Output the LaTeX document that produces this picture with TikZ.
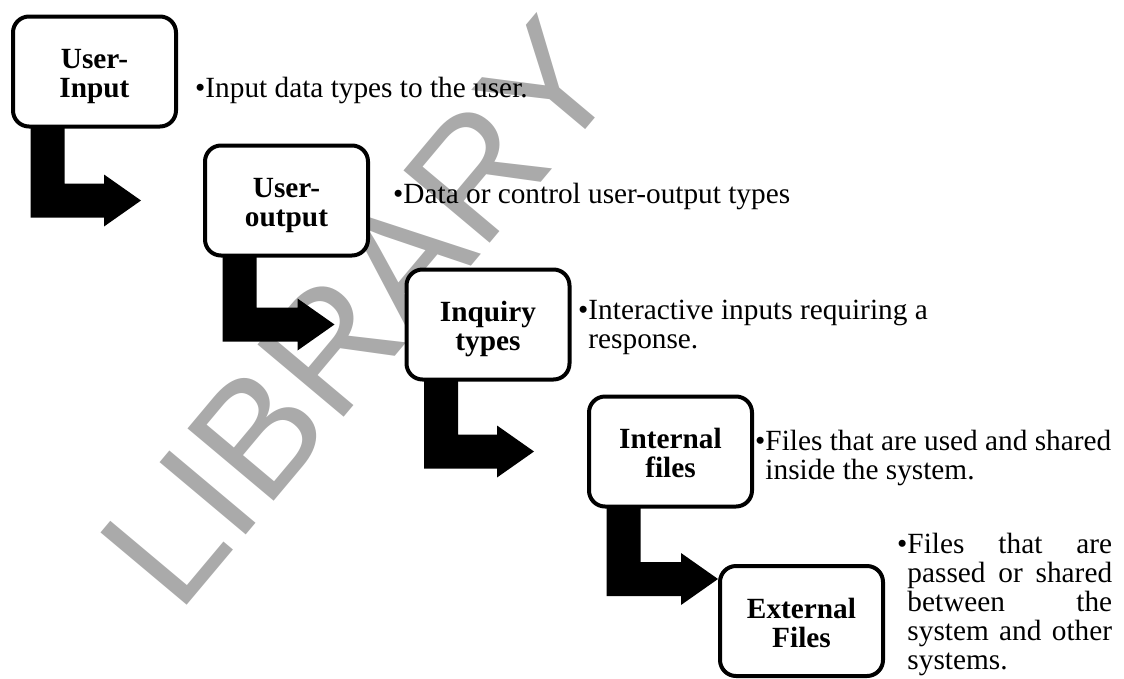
\documentclass[tikz,border=0pt]{standalone}
\usepackage{fontspec}
\setmainfont{Liberation Serif}
\newfontfamily\wmfont{Liberation Sans}
\usetikzlibrary{calc}

\definecolor{wmgray}{RGB}{170,170,170}

\newcommand\bodysize{\fontsize{29.3pt}{29.2pt}\selectfont}
% blank space as wide as a bullet, for the hanging lines
\newcommand\hangb{\hphantom{\textbullet}}
% a justified line of a given width
\newcommand\jline[2]{\makebox[#1][s]{#2}}
% fixed line metrics so that every two-line label sits alike in its box
\newcommand\topstrut{\rule{0pt}{30pt}}
\newcommand\botstrut{\rule[-7pt]{0pt}{7pt}}
\newcommand\twolines[2]{\topstrut#1\\\botstrut#2}

% bent block arrow: #1 = top-left corner of the vertical bar, #2 = tip
\newcommand\stagearrow[2]{%
  \fill let \p1=(#1), \p2=(#2) in
    (\x1,\y1) -- (\x1+34pt,\y1) -- (\x1+34pt,\y2+17pt) -- (\x2-37pt,\y2+17pt)
    -- (\x2-37pt,\y2+26pt) -- (\x2,\y2) -- (\x2-37pt,\y2-26pt)
    -- (\x2-37pt,\y2-17pt) -- (\x1,\y2-17pt) -- cycle;}

\tikzset{
  stage/.style={draw=black, line width=4pt, fill=white, rounded corners=16pt,
    minimum width=163pt, minimum height=110pt, inner sep=0pt, align=center,
    font=\fontsize{29.3pt}{29pt}\selectfont\bfseries},
  note/.style={anchor=base west, inner sep=0pt, font=\bodysize},
  watermark/.style={rotate=50, anchor=base west, inner sep=0pt, text=wmgray,
    font=\wmfont\fontsize{163.5pt}{163.5pt}\selectfont}
}

\begin{document}
\begin{tikzpicture}[x=1pt, y=-1pt]
  \useasboundingbox (0,0) rectangle (1124,678);

  % background stamp
  \node[watermark] (wm) at (178,616) {LIBRARY};

  % stages
  \node[stage] (b1) at (94.5,71.5)   {\twolines{User-}{Input}};
  \node[stage] (b2) at (286.5,200.5) {\twolines{User-}{output}};
  \node[stage] (b3) at (488,324.5)   {\twolines{Inquiry}{types}};
  \node[stage] (b4) at (670.5,451.5) {\twolines{Internal}{files}};
  \node[stage] (b5) at (801.5,621)   {\twolines{External}{Files}};

  % arrow tips
  \coordinate (t1) at ([xshift=-62pt]b2.west);
  \coordinate (t2) at ([xshift=-70pt]b3.west);
  \coordinate (t3) at ([xshift=-53pt]b4.west);
  \coordinate (t4) at ([yshift=-15pt]b5.north west);

  % connectors
  \stagearrow{[xshift=19.5pt,yshift=2pt]b1.south west}{t1}
  \stagearrow{[xshift=19.5pt,yshift=2pt]b2.south west}{t2}
  \stagearrow{[xshift=19.5pt,yshift=2pt]b3.south west}{t3}
  \stagearrow{[xshift=19.5pt,yshift=2pt]b4.south west}{t4}

  % descriptions (first baseline at the node's base)
  \node[note] (n1) at (195,97)  {\textbullet Input data types to the user.};
  \node[note] (n2) at (393,203) {\textbullet Data or control user-output types};
  \node[note] (n3) at (578,319) {\vtop{\hbox{\textbullet Interactive inputs requiring a}
    \hbox{\hangb response.}}};
  \node[note] (n4) at (755,450) {\vtop{\hbox{\textbullet Files that are used and shared}
    \hbox{\hangb inside the system.}}};
  \node[note] (n5) at (897,553) {\vtop{\hbox{\jline{215pt}{\textbullet Files that are}}
    \hbox{\hangb\jline{204.7pt}{passed or shared}}
    \hbox{\hangb\jline{204.7pt}{between the}}
    \hbox{\hangb\jline{204.7pt}{system and other}}
    \hbox{\hangb systems.}}};
\end{tikzpicture}
\end{document}
